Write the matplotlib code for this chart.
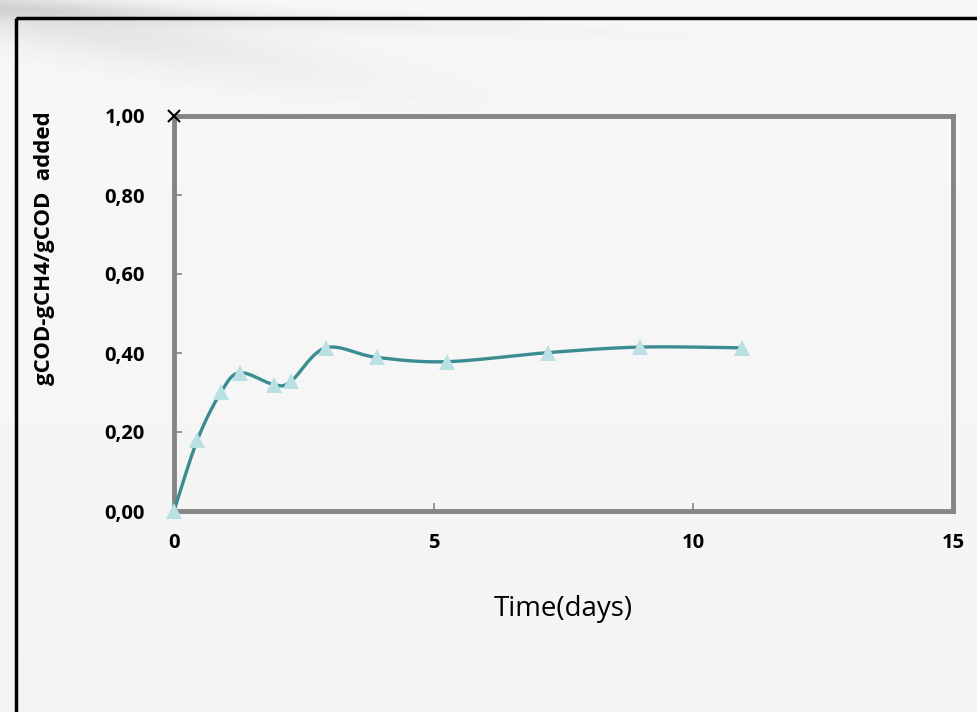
import numpy as np
import matplotlib.pyplot as plt
from matplotlib.ticker import FuncFormatter
from matplotlib.patches import Rectangle

# dados
tempo = [0, 0.45, 0.91, 1.27, 1.92, 2.25, 2.92, 3.9, 5.25, 7.2, 8.98, 10.93]
metano = [0.0, 0.18, 0.302, 0.350, 0.320, 0.328, 0.413, 0.389, 0.378, 0.401, 0.415, 0.413]
ponto_x = [0]
ponto_y = [1.0]


def suavizar(x, y, n=30):
    # curva suavizada tipo Excel (bezier com tangentes de Catmull-Rom)
    p = np.column_stack([x, y]).astype(float)
    p = np.vstack([p[0], p, p[-1]])
    out = []
    t = np.linspace(0, 1, n)[:, None]
    for i in range(1, len(p) - 2):
        p0, p3 = p[i], p[i + 1]
        p1 = p0 + (p[i + 1] - p[i - 1]) / 6
        p2 = p3 - (p[i + 2] - p[i]) / 6
        seg = ((1 - t) ** 3) * p0 + 3 * ((1 - t) ** 2) * t * p1 + 3 * (1 - t) * t ** 2 * p2 + t ** 3 * p3
        out.append(seg)
    c = np.vstack(out)
    return c[:, 0], c[:, 1]


W, H = 977, 712
fig = plt.figure(figsize=(W / 100, H / 100), dpi=100)

# fundo com degradê cinza
bg = fig.add_axes([0, 0, 1, 1])
yy, xx = np.mgrid[0:H, 0:W]
base = 0.968 - 0.012 * (yy / H)
faixa = np.exp(-((yy - 0.18 * xx - 10) / 30.0) ** 2) * np.exp(-(xx / 300.0) ** 2)
faixa2 = np.exp(-((yy - 0.04 * xx - 8) / 10.0) ** 2) * np.exp(-(xx / 450.0) ** 2)
img = base - 0.08 * faixa - 0.07 * faixa2
bg.imshow(img, cmap='gray', vmin=0, vmax=1, aspect='auto', extent=[0, W, H, 0])
bg.add_patch(Rectangle((16, 18), W, H, fill=False, edgecolor='black', linewidth=2.5))
bg.set_xlim(0, W)
bg.set_ylim(H, 0)
bg.axis('off')

ax = fig.add_axes([174 / W, 1 - 511 / H, (953 - 174) / W, (511 - 116) / H])
ax.patch.set_alpha(0)

xs, ys = suavizar(tempo, metano)
ax.plot(xs, ys, color='#3a8c91', linewidth=2.4, zorder=3, clip_on=False)
ax.plot(tempo, metano, linestyle='none', marker='^', markersize=12,
        color='#b9e1e4', markeredgewidth=0, zorder=4, clip_on=False)
ax.plot(ponto_x, ponto_y, linestyle='none', marker='x', markersize=9,
        color='black', markeredgewidth=1.5, zorder=5, clip_on=False)

ax.set_xlim(0, 15)
ax.set_ylim(0, 1.0)
ax.set_xticks([0, 5, 10, 15])
ax.set_yticks([0, 0.2, 0.4, 0.6, 0.8, 1.0])
ax.yaxis.set_major_formatter(FuncFormatter(lambda v, p: ('%.2f' % v).replace('.', ',')))

for s in ax.spines.values():
    s.set_color('#858585')
    s.set_linewidth(3.5)

ax.tick_params(direction='in', length=6, width=1.2, color='#858585')
ax.tick_params(axis='y', pad=21)
ax.tick_params(axis='x', pad=16)
for lab in ax.get_xticklabels() + ax.get_yticklabels():
    lab.set_fontfamily('Open Sans')
    lab.set_fontweight('bold')
    lab.set_fontsize(14.5)

ax.set_xlabel('Time(days)', fontfamily='Open Sans', fontsize=20, labelpad=30)
fig.text(45 / W, 1 - 248 / H, 'gCOD-gCH4/gCOD  added', rotation=90,
         ha='center', va='center', fontfamily='Open Sans', fontweight='bold', fontsize=16)

fig.savefig('out.png', dpi=100)
